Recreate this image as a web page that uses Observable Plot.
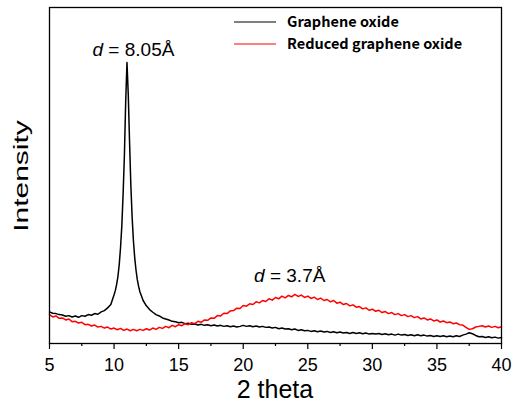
<!DOCTYPE html>
<html>
<head>
<meta charset="utf-8">
<script src="https://cdn.jsdelivr.net/npm/d3@7"></script>
<script src="https://cdn.jsdelivr.net/npm/@observablehq/plot@0.6"></script>
<style>
  html, body { margin: 0; padding: 0; background: #fff; }
  #chart { width: 513px; height: 404px; }
</style>
</head>
<body>
<div id="chart"></div>
<script>
// ---- Data (intensity in arbitrary units) ----
const seriesNames = ["Graphene oxide", "Reduced graphene oxide"];
const seriesColors = ["#000000", "#ff0000"];

const thetaGO = [
  5, 5.25, 5.5, 5.75, 6, 6.25, 6.5, 6.75, 7, 7.25, 7.5, 7.75, 8, 8.25, 8.5, 8.75,
  9, 9.25, 9.5, 9.75, 10, 10.1, 10.2, 10.3, 10.4, 10.5, 10.6, 10.7, 10.8, 10.9,
  11, 11.1, 11.2, 11.3, 11.4, 11.5, 11.6, 11.7, 11.8, 11.9, 12, 12.25, 12.5, 12.75,
  13, 13.25, 13.5, 13.75, 14, 14.25, 14.5, 14.75, 15, 15.25, 15.5, 15.75, 16, 16.25,
  16.5, 16.75, 17, 17.25, 17.5, 17.75, 18, 18.25, 18.5, 18.75, 19, 19.25, 19.5, 19.75,
  20, 20.25, 20.5, 20.75, 21, 21.25, 21.5, 21.75, 22, 22.25, 22.5, 22.75, 23, 23.25,
  23.5, 23.75, 24, 24.25, 24.5, 24.75, 25, 25.25, 25.5, 25.75, 26, 26.25, 26.5, 26.75,
  27, 27.25, 27.5, 27.75, 28, 28.25, 28.5, 28.75, 29, 29.25, 29.5, 29.75, 30, 30.25,
  30.5, 30.75, 31, 31.25, 31.5, 31.75, 32, 32.25, 32.5, 32.75, 33, 33.25, 33.5, 33.75,
  34, 34.25, 34.5, 34.75, 35, 35.25, 35.5, 35.75, 36, 36.25, 36.5, 36.75, 37, 37.25,
  37.5, 37.75, 38, 38.25, 38.5, 38.75, 39, 39.25, 39.5, 39.75, 40
];
const intensityGO = [
  9.4, 9.0, 8.9, 8.6, 8.5, 8.1, 8.3, 7.9, 8.2, 7.8, 8.3, 8.1, 8.6, 8.4, 8.9, 8.7,
  9.4, 9.8, 10.6, 11.6, 14.5, 15.8, 17.6, 20.0, 23.5, 28.5, 35.0, 44.5, 56.0, 72.0,
  83.6, 74.0, 60.0, 47.0, 37.5, 30.5, 25.5, 21.8, 19.0, 17.0, 15.4, 12.8, 11.2, 10.1,
  9.3, 8.6, 8.2, 7.6, 7.3, 7.0, 6.6, 6.5, 6.2, 6.3, 5.9, 6.0, 5.7, 5.8,
  5.5, 5.7, 5.4, 5.6, 5.3, 5.5, 5.2, 5.4, 5.1, 5.3, 5.0, 5.2, 4.9, 5.1,
  5.4, 5.1, 5.3, 5.0, 5.2, 4.9, 5.1, 4.8, 4.9, 4.6, 4.8, 4.4, 4.6, 4.3,
  4.4, 4.1, 4.3, 3.9, 4.1, 3.8, 3.9, 3.6, 3.8, 3.5, 3.7, 3.4, 3.6, 3.3,
  3.5, 3.2, 3.4, 3.1, 3.3, 3.0, 3.3, 3.0, 3.2, 2.9, 3.1, 2.8, 3.0, 2.8,
  3.0, 2.7, 2.9, 2.6, 2.8, 2.5, 2.8, 2.5, 2.7, 2.4, 2.6, 2.3, 2.6, 2.3,
  2.5, 2.2, 2.4, 2.1, 2.3, 2.1, 2.3, 2.0, 2.2, 2.0, 2.3, 2.1, 2.5, 2.8,
  3.2, 2.9, 2.4, 2.0, 2.1, 1.8, 2.0, 1.7, 1.9, 1.6, 1.8
];

const thetaRGO = [
  5, 5.25, 5.5, 5.75, 6, 6.25, 6.5, 6.75, 7, 7.25, 7.5, 7.75, 8, 8.25, 8.5, 8.75,
  9, 9.25, 9.5, 9.75, 10, 10.25, 10.5, 10.75, 11, 11.25, 11.5, 11.75, 12, 12.25, 12.5, 12.75,
  13, 13.25, 13.5, 13.75, 14, 14.25, 14.5, 14.75, 15, 15.25, 15.5, 15.75, 16, 16.25, 16.5, 16.75,
  17, 17.25, 17.5, 17.75, 18, 18.25, 18.5, 18.75, 19, 19.25, 19.5, 19.75, 20, 20.25, 20.5, 20.75,
  21, 21.25, 21.5, 21.75, 22, 22.25, 22.5, 22.75, 23, 23.25, 23.5, 23.75, 24, 24.25, 24.5, 24.75,
  25, 25.25, 25.5, 25.75, 26, 26.25, 26.5, 26.75, 27, 27.25, 27.5, 27.75, 28, 28.25, 28.5, 28.75,
  29, 29.25, 29.5, 29.75, 30, 30.25, 30.5, 30.75, 31, 31.25, 31.5, 31.75, 32, 32.25, 32.5, 32.75,
  33, 33.25, 33.5, 33.75, 34, 34.25, 34.5, 34.75, 35, 35.25, 35.5, 35.75, 36, 36.25, 36.5, 36.75,
  37, 37.25, 37.5, 37.75, 38, 38.25, 38.5, 38.75, 39, 39.25, 39.5, 39.75, 40
];
const intensityRGO = [
  8.6, 7.9, 8.2, 7.5, 7.6, 7.0, 7.3, 6.5, 6.6, 6.1, 6.3, 5.6, 5.7, 5.2, 5.5, 4.9,
  5.1, 4.6, 4.9, 4.3, 4.6, 4.1, 4.5, 3.9, 4.3, 3.8, 4.2, 3.8, 4.2, 3.9, 4.4, 4.0,
  4.6, 4.2, 4.8, 4.5, 5.1, 4.7, 5.4, 5.0, 5.6, 5.3, 5.9, 5.6, 6.2, 5.9, 6.6, 6.3,
  7.0, 6.9, 7.6, 7.5, 8.3, 8.2, 9.0, 8.9, 9.7, 9.8, 10.5, 10.4, 11.3, 11.1, 11.8, 11.6,
  12.4, 12.1, 12.8, 12.5, 13.3, 12.9, 13.7, 13.3, 14.1, 13.6, 14.3, 13.9, 14.6, 14.0, 14.4, 13.7,
  14.1, 13.4, 13.8, 13.1, 13.5, 12.8, 13.1, 12.4, 12.8, 12.0, 12.3, 11.6, 11.9, 11.2, 11.5, 10.8,
  11.0, 10.3, 10.6, 9.9, 10.2, 9.6, 9.9, 9.2, 9.5, 8.9, 9.2, 8.6, 8.9, 8.3, 8.6, 8.0,
  8.3, 7.7, 8.0, 7.3, 7.6, 7.0, 7.3, 6.7, 7.0, 6.4, 6.7, 6.2, 6.4, 5.9, 6.1, 5.6,
  5.5, 4.8, 4.2, 4.4, 4.9, 5.1, 5.3, 4.9, 5.2, 4.8, 5.1, 4.7, 5.0
];

const xMajorTicks = [5, 10, 15, 20, 25, 30, 35, 40];
const xMinorTicks = [7.5, 12.5, 17.5, 22.5, 27.5, 32.5, 37.5];

const annoLabel = ["8.05Å", "3.7Å"];
const annoTheta = [11.5, 23.6];
const annoIntensity = [85.7, 18.2];

// ---- Build tables ----
const goData = thetaGO.map((t, i) => ({theta: t, intensity: intensityGO[i]}));
const rgoData = thetaRGO.map((t, i) => ({theta: t, intensity: intensityRGO[i]}));
const annos = annoLabel.map((s, i) => ({label: s, theta: annoTheta[i], intensity: annoIntensity[i]}));

const font = "'Liberation Sans', Arial, sans-serif";

const plot = Plot.plot({
  width: 513,
  height: 404,
  marginLeft: 49,
  marginRight: 12,
  marginTop: 7,
  marginBottom: 61,
  style: {fontFamily: font, background: "#fff", color: "#000"},
  x: {domain: [5, 40]},
  y: {domain: [0, 100], axis: null},
  marks: [
    Plot.axisX({ticks: xMinorTicks, tickSize: 3, tickFormat: () => "", label: null, strokeWidth: 1.2}),
    Plot.axisX({ticks: xMajorTicks, tickSize: 6, tickPadding: 9, fontSize: 18, label: null, strokeWidth: 1.2, tickFormat: d => String(d)}),
    Plot.line(goData, {x: "theta", y: "intensity", stroke: seriesColors[0], strokeWidth: 1.5}),
    Plot.line(rgoData, {x: "theta", y: "intensity", stroke: seriesColors[1], strokeWidth: 1.5}),
    Plot.text(annos, {x: "theta", y: "intensity", text: "label", fontSize: 19, textAnchor: "middle", lineAnchor: "bottom", className: "anno"}),
    Plot.frame({stroke: "#000", strokeWidth: 1.3})
  ]
});

document.getElementById("chart").appendChild(plot);

const svg = d3.select(plot);

// italic "d" in annotations
svg.selectAll(".anno text").each(function() {
  const el = d3.select(this);
  const val = el.text();
  el.text(null);
  el.append("tspan").attr("font-style", "italic").text("d");
  el.append("tspan").text(" = " + val);
});

// axis titles
svg.append("text")
  .attr("x", 275).attr("y", 398)
  .attr("text-anchor", "middle")
  .attr("font-family", font)
  .attr("font-size", 25)
  .text("2 theta");

svg.append("text")
  .attr("transform", "translate(28,176) rotate(-90) scale(1.5,1)")
  .attr("text-anchor", "middle")
  .attr("font-family", font)
  .attr("font-size", 20)
  .text("Intensity");

// legend
const legend = svg.append("g").attr("text-anchor", "start");
seriesNames.forEach((name, i) => {
  const y = i === 0 ? 22 : 44;
  legend.append("line")
    .attr("x1", 234).attr("x2", 276).attr("y1", y).attr("y2", y)
    .attr("stroke", seriesColors[i]).attr("stroke-width", 1.2);
  legend.append("text")
    .attr("x", 287).attr("y", y + 5)
    .attr("text-anchor", "start")
    .attr("font-family", "'Noto Sans CJK KR', 'Noto Sans', sans-serif")
    .attr("font-weight", "bold")
    .attr("font-size", 14.5)
    .text(name);
});
</script>
</body>
</html>
